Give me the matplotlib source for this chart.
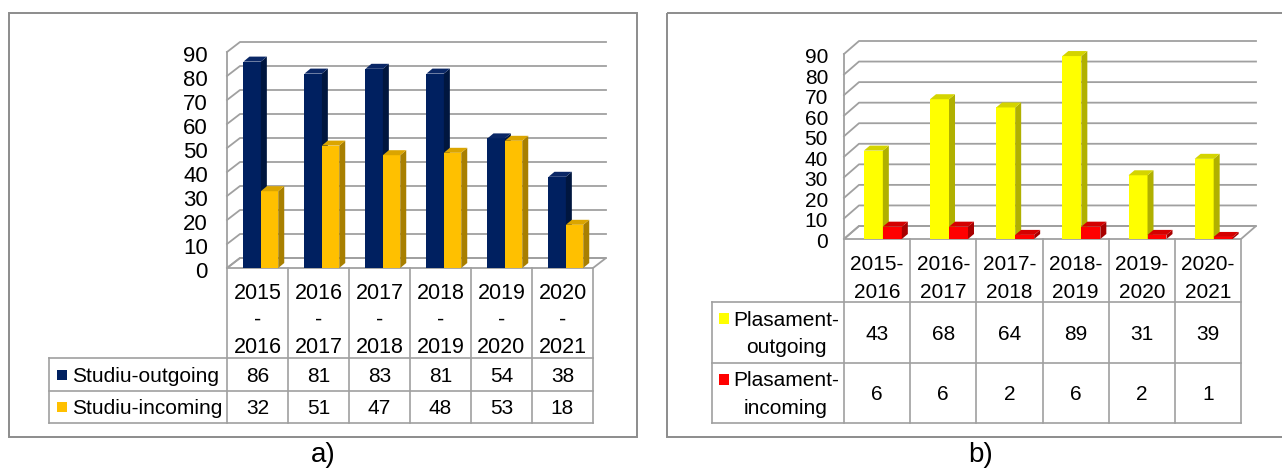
#!/usr/bin/env python3
"""Erasmus mobility charts: studiu (a) and plasament (b), 3D-style bars with data table."""

import matplotlib

matplotlib.use("Agg")

import matplotlib.pyplot as plt
from matplotlib import font_manager
from matplotlib.patches import Rectangle
from matplotlib.transforms import Affine2D, blended_transform_factory

W, H = 1282, 470

PERIODS = ["2015-2016", "2016-2017", "2017-2018", "2018-2019", "2019-2020", "2020-2021"]
STUDIU_OUTGOING = [86, 81, 83, 81, 54, 38]
STUDIU_INCOMING = [32, 51, 47, 48, 53, 18]
PLASAMENT_OUTGOING = [43, 68, 64, 89, 31, 39]
PLASAMENT_INCOMING = [6, 6, 2, 6, 2, 1]
Y_TICKS = [0, 10, 20, 30, 40, 50, 60, 70, 80, 90]

GRID = "#a0a0a0"
TABLE_LINE = "#a0a0a0"
FRAME = "#8c8c8c"

plt.rcParams["font.family"] = ["Liberation Sans", "DejaVu Sans"]

# the header cells of (a) and the captions look horizontally squeezed
HAS_NARROW = any(f.name == "Liberation Sans Narrow" for f in font_manager.fontManager.ttflist)
NARROW = ["Liberation Sans Narrow", "Liberation Sans"] if HAS_NARROW else ["Liberation Sans"]

PANEL_A = {
    "frame": (9, 13, 637, 437),
    "plot": (227, 593, 268, 52),  # left, right, y of 0, y of 90 (px from top)
    "depth": (13, 10),
    "bar_depth": (6, 5),
    "bar_start": 0.27,
    "bar_width": 0.285,
    "tick_right": 208,
    "tick_size": 16,
    "tick_shift": 2,
    "label_left": 49,
    "rows": (358, 391, 423),
    "header_lines": lambda p: [p[:4], "-", p[5:]],
    "header_base": (299, 326, 353),
    "header_font": (NARROW, 18 if HAS_NARROW else 15.5),
    "caption": ("a)", 323),
}
PANEL_B = {
    "frame": (667, 13, 1295, 437),
    "plot": (844, 1241, 239, 54),
    "depth": (15, 13),
    "bar_depth": (6, 5),
    "bar_start": 0.30,
    "bar_width": 0.287,
    "tick_right": 828,
    "tick_size": 15,
    "tick_shift": 1.5,
    "label_left": 712,
    "rows": (302, 363, 423),
    "header_lines": lambda p: [p[:5], p[5:]],
    "header_base": (270, 298),
    "header_font": (["Liberation Sans"], 15),
    "caption": ("b)", 981),
}

STUDIU_SERIES = [
    ("Studiu-outgoing", STUDIU_OUTGOING, ("#002060", "#00163f", "#0a2766")),
    ("Studiu-incoming", STUDIU_INCOMING, ("#ffc000", "#a87f00", "#dba500")),
]
PLASAMENT_SERIES = [
    ("Plasament-\noutgoing", PLASAMENT_OUTGOING, ("#ffff00", "#b0b000", "#d4d400")),
    ("Plasament-\nincoming", PLASAMENT_INCOMING, ("#ff0000", "#a80000", "#d40000")),
]

TEXT_PT = 15


def em(pt):
    return pt * 100 / 72


def draw_panel(fig, pix, cfg, series):
    left, right, y0, y90 = cfg["plot"]
    n = len(PERIODS)
    colw = (right - left) / n
    ppu = (y0 - y90) / 90
    ax = fig.add_axes([left / W, 1 - y0 / H, (right - left) / W, (y0 - y90) / H])
    ax.set_xlim(0, n)
    ax.set_ylim(0, 90)
    ax.axis("off")

    ddx = cfg["depth"][0] / colw
    ddy = cfg["depth"][1] / ppu

    # floor
    ax.fill([0, n, n + ddx, ddx], [0, 0, ddy, ddy], facecolor="white",
            edgecolor=GRID, linewidth=1.3, zorder=0.5, clip_on=False)
    # walls: grid lines on the back wall and the left side wall
    for v in Y_TICKS:
        ax.plot([0, ddx, n + ddx], [v, v + ddy, v + ddy], color=GRID,
                linewidth=1.3, zorder=0.6, clip_on=False)
    ax.plot([0, 0], [0, 90], color=GRID, linewidth=1.3, zorder=0.6, clip_on=False)

    # bars
    bdx = cfg["bar_depth"][0] / colw
    bdy = cfg["bar_depth"][1] / ppu
    bw = cfg["bar_width"]
    for k, (_, values, (front, side, top)) in enumerate(series):
        z = 2 + k
        xs = [i + cfg["bar_start"] + k * bw for i in range(n)]
        ax.bar(xs, values, width=bw, align="edge", color=front, zorder=z,
               linewidth=0, clip_on=False)
        for x, h in zip(xs, values):
            x1 = x + bw
            ax.fill([x1, x1 + bdx, x1 + bdx, x1], [0, bdy, h + bdy, h],
                    color=side, linewidth=0, zorder=z, clip_on=False)
            ax.fill([x, x1, x1 + bdx, x + bdx], [h, h, h + bdy, h + bdy],
                    color=top, linewidth=0, zorder=z, clip_on=False)

    # y tick labels
    tick_x = -(left - cfg["tick_right"]) / colw
    cap = 0.358 * em(cfg["tick_size"])
    for v in Y_TICKS:
        ax.text(tick_x, v - (cap + cfg["tick_shift"]) / ppu, str(v), ha="right",
                va="baseline", fontsize=cfg["tick_size"], clip_on=False)

    # data table
    bt = blended_transform_factory(ax.transData, pix)
    lab_x = -(left - cfg["label_left"]) / colw
    r_head, r_mid, r_bot = cfg["rows"]
    line_kw = dict(color=TABLE_LINE, linewidth=1.2, clip_on=False, transform=bt)
    for i in range(n + 1):
        ax.plot([i, i], [y0, r_bot], **line_kw)
    ax.plot([lab_x, lab_x], [r_head, r_bot], **line_kw)
    for y in cfg["rows"]:
        ax.plot([lab_x, n], [y, y], **line_kw)

    head_family, head_size = cfg["header_font"]
    for i, period in enumerate(PERIODS):
        for txt, base in zip(cfg["header_lines"](period), cfg["header_base"]):
            ax.text(i + 0.5, base, txt, transform=bt, ha="center", va="baseline",
                    fontsize=head_size, family=head_family, clip_on=False)

    tcap = 0.358 * em(TEXT_PT)
    bounds = [(r_head, r_mid), (r_mid, r_bot)]
    for (label, values, colors), (ya, yb) in zip(series, bounds):
        yc = (ya + yb) / 2
        for i, v in enumerate(values):
            ax.text(i + 0.5, yc + tcap, str(v), transform=bt, ha="center",
                    va="baseline", fontsize=TEXT_PT, clip_on=False)
        lines = label.split("\n")
        if len(lines) == 1:
            fig.add_artist(Rectangle((cfg["label_left"] + 8, yc - 5), 10, 10,
                                     transform=pix, color=colors[0], linewidth=0))
            fig.text(cfg["label_left"] + 23, yc + tcap, label, transform=pix,
                     ha="left", va="baseline", fontsize=TEXT_PT)
        else:
            fig.add_artist(Rectangle((cfg["label_left"] + 7, yc - 19.5), 9.5, 11,
                                     transform=pix, color=colors[0], linewidth=0))
            cx = cfg["label_left"] + 74
            fig.text(cx, yc - 7, lines[0], transform=pix, ha="center",
                     va="baseline", fontsize=TEXT_PT)
            fig.text(cx, yc + 20.5, lines[1], transform=pix, ha="center",
                     va="baseline", fontsize=TEXT_PT)

    # frame and caption
    fx0, fy0, fx1, fy1 = cfg["frame"]
    fig.add_artist(Rectangle((fx0, fy0), fx1 - fx0, fy1 - fy0, transform=pix,
                             fill=False, edgecolor=FRAME, linewidth=1.4))
    cap_text, cap_x = cfg["caption"]
    fig.text(cap_x, 462, cap_text, transform=pix, ha="center", va="baseline",
             fontsize=22 if HAS_NARROW else 20, family=NARROW)


def main():
    fig = plt.figure(figsize=(W / 100, H / 100), dpi=100)
    fig.patch.set_facecolor("white")
    pix = Affine2D().scale(1 / W, -1 / H).translate(0, 1) + fig.transFigure
    draw_panel(fig, pix, PANEL_A, STUDIU_SERIES)
    draw_panel(fig, pix, PANEL_B, PLASAMENT_SERIES)
    fig.savefig("out.png", dpi=100)
    plt.close(fig)


if __name__ == "__main__":
    main()
